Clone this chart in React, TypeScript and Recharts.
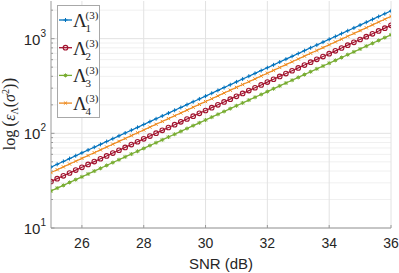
import React from 'react';
import { LineChart, Line, XAxis, YAxis, CartesianGrid, Legend } from 'recharts';

const snr = [25, 25.2, 25.4, 25.6, 25.8, 26, 26.2, 26.4, 26.6, 26.8, 27, 27.2, 27.4, 27.6, 27.8, 28, 28.2, 28.4, 28.6, 28.8, 29, 29.2, 29.4, 29.6, 29.8, 30, 30.2, 30.4, 30.6, 30.8, 31, 31.2, 31.4, 31.6, 31.8, 32, 32.2, 32.4, 32.6, 32.8, 33, 33.2, 33.4, 33.6, 33.8, 34, 34.2, 34.4, 34.6, 34.8, 35, 35.2, 35.4, 35.6, 35.8, 36];

const lambda1 = [44, 47.1, 50.5, 54.1, 58.0, 62.2, 66.6, 71.4, 76.5, 81.9, 87.8, 94.1, 100.8, 108.0, 115.7, 124.0, 132.9, 142.4, 152.6, 163.5, 175.2, 187.7, 201.1, 215.5, 230.9, 247.4, 265.1, 284.1, 304.4, 326.2, 349.5, 374.5, 401.3, 430.0, 460.7, 493.7, 529.0, 566.8, 607.4, 650.8, 697.4, 747.2, 800.7, 857.9, 919.3, 985.0, 1055.5, 1131.0, 1211.9, 1298.5, 1391.4, 1490.9, 1597.5, 1711.8, 1834.2, 1965.4];

const lambda2 = [31, 33.2, 35.6, 38.1, 40.9, 43.8, 46.9, 50.3, 53.9, 57.7, 61.9, 66.3, 71.0, 76.1, 81.5, 87.4, 93.6, 100.3, 107.5, 115.2, 123.4, 132.2, 141.7, 151.8, 162.7, 174.3, 186.8, 200.2, 214.5, 229.8, 246.2, 263.9, 282.7, 302.9, 324.6, 347.8, 372.7, 399.4, 427.9, 458.5, 491.3, 526.5, 564.1, 604.4, 647.7, 694.0, 743.6, 796.8, 853.8, 914.9, 980.3, 1050.4, 1125.5, 1206.0, 1292.3, 1384.7];

const lambda3 = [24.6, 26.4, 28.2, 30.3, 32.4, 34.7, 37.2, 39.9, 42.7, 45.8, 49.1, 52.6, 56.4, 60.4, 64.7, 69.3, 74.3, 79.6, 85.3, 91.4, 97.9, 104.9, 112.4, 120.5, 129.1, 138.3, 148.2, 158.8, 170.2, 182.4, 195.4, 209.4, 224.4, 240.4, 257.6, 276.0, 295.8, 316.9, 339.6, 363.9, 389.9, 417.8, 447.6, 479.7, 514.0, 550.7, 590.1, 632.3, 677.5, 726.0, 777.9, 833.6, 893.2, 957.0, 1025.5, 1098.8];

const lambda4 = [38.5, 41.3, 44.2, 47.4, 50.8, 54.4, 58.3, 62.4, 66.9, 71.7, 76.8, 82.3, 88.2, 94.5, 101.3, 108.5, 116.3, 124.6, 133.5, 143.0, 153.3, 164.2, 176.0, 188.6, 202.1, 216.5, 232.0, 248.6, 266.4, 285.4, 305.8, 327.7, 351.1, 376.2, 403.1, 432.0, 462.9, 496.0, 531.5, 569.5, 610.2, 653.8, 700.6, 750.7, 804.4, 861.9, 923.6, 989.6, 1060.4, 1136.2, 1217.5, 1304.5, 1397.8, 1497.8, 1604.9, 1719.7];

const xTicks = [26, 28, 30, 32, 34, 36];
const yTicks = [10, 20, 30, 40, 50, 60, 70, 80, 90, 100, 200, 300, 400, 500, 600, 700, 800, 900, 1000, 2000];
const yDecades = [10, 100, 1000];
const yMinors = [20, 30, 40, 50, 60, 70, 80, 90, 200, 300, 400, 500, 600, 700, 800, 900, 2000];
const legendSubs = ['1', '2', '3', '4'];

const data = snr.map((s, i) => ({ snr: s, l1: lambda1[i], l2: lambda2[i], l3: lambda3[i], l4: lambda4[i] }));

const C1 = '#0072BD';
const C2 = '#A2142F';
const C3 = '#77AC30';
const C4 = '#EE8A1E';
const TXT = '#262626';
const AX = '#9a9a9a';
const SANS = '"Liberation Sans", Arial, Helvetica, sans-serif';
const SERIF = '"Liberation Serif", "Times New Roman", serif';

type MP = { cx: number; cy: number; color: string };

const PlusM = ({ cx, cy, color }: MP) => (
  <g stroke={color} strokeWidth={1}>
    <line x1={cx - 2} y1={cy} x2={cx + 2} y2={cy} />
    <line x1={cx} y1={cy - 2} x2={cx} y2={cy + 2} />
  </g>
);
const CircleM = ({ cx, cy, color }: MP) => (
  <circle cx={cx} cy={cy} r={2.3} stroke={color} strokeWidth={1.1} fill="none" />
);
const StarM = ({ cx, cy, color }: MP) => (
  <g stroke={color} strokeWidth={1}>
    <line x1={cx - 2} y1={cy} x2={cx + 2} y2={cy} />
    <line x1={cx} y1={cy - 2} x2={cx} y2={cy + 2} />
    <line x1={cx - 1.5} y1={cy - 1.5} x2={cx + 1.5} y2={cy + 1.5} />
    <line x1={cx - 1.5} y1={cy + 1.5} x2={cx + 1.5} y2={cy - 1.5} />
  </g>
);
const DotM = ({ cx, cy, color }: MP) => (
  <g stroke={color} strokeWidth={1}>
    <line x1={cx - 1.6} y1={cy - 1.6} x2={cx + 1.6} y2={cy + 1.6} />
    <line x1={cx - 1.6} y1={cy + 1.6} x2={cx + 1.6} y2={cy - 1.6} />
  </g>
);

const markers = [PlusM, CircleM, StarM, DotM];
const colors = [C1, C2, C3, C4];

const mkDot = (M: any, color: string) => (p: any) => {
  if (p.cx == null || p.cy == null) return <g key={p.index} />;
  return <M key={p.index} cx={p.cx} cy={p.cy} color={color} />;
};

const XTick = (props: any) => {
  const { x, y, payload } = props;
  return (
    <g>
      <line x1={x} y1={y} x2={x} y2={y - 3} stroke={AX} strokeWidth={1} />
      <text x={x} y={y + 20} textAnchor="middle" fontFamily={SANS} fontSize={14} fill={TXT}>
        {payload.value}
      </text>
    </g>
  );
};

const YTick = (props: any) => {
  const { x, y, payload } = props;
  const v = payload.value;
  const isDec = yDecades.includes(v);
  const exp = Math.round(Math.log10(v));
  return (
    <g>
      <line x1={x} y1={y} x2={x + (isDec ? 3.5 : 2)} y2={y} stroke={AX} strokeWidth={1} />
      {isDec && (
        <text x={x - 5} y={y + 6} textAnchor="end" fontFamily={SANS} fontSize={15} fill={TXT}>
          <tspan>10</tspan>
          <tspan fontSize={10} dy={-8}>{exp}</tspan>
        </text>
      )}
    </g>
  );
};

const YLabel = () => (
  <text
    x={15}
    y={114}
    transform="rotate(-90, 15, 114)"
    textAnchor="middle"
    fontFamily={SERIF}
    fontSize={16}
    fill={TXT}
  >
    <tspan>log</tspan>
    <tspan dx={3} fontSize={18}>(</tspan>
    <tspan fontStyle="italic">ε</tspan>
    <tspan fontSize={10} dy={3}>Λ</tspan>
    <tspan dy={-3}>(</tspan>
    <tspan fontStyle="italic">σ</tspan>
    <tspan fontSize={10} dy={-6}>2</tspan>
    <tspan dy={6}>)</tspan>
    <tspan fontSize={18}>)</tspan>
  </text>
);

const XLabel = () => (
  <text x={221} y={269} textAnchor="middle" fontFamily={SANS} fontSize={15} fill={TXT}>
    SNR (dB)
  </text>
);

const LegendBox = () => (
  <svg width={43} height={113} style={{ display: 'block' }}>
    <rect x={0.5} y={0.5} width={42} height={112} fill="#fff" stroke="#a8a8a8" strokeWidth={1} />
    {legendSubs.map((s, i) => {
      const cy = 15 + i * 27.7;
      const M = markers[i];
      return (
        <g key={s}>
          <line x1={2} y1={cy} x2={15} y2={cy} stroke={colors[i]} strokeWidth={1.3} />
          <M cx={8.5} cy={cy} color={colors[i]} />
          <text x={16} y={cy + 7} fontFamily={SERIF} fontSize={19} fill={TXT}>Λ</text>
          <text x={28.5} y={cy - 1} fontFamily={SERIF} fontSize={11} fill={TXT}>(3)</text>
          <text x={28.5} y={cy + 12} fontFamily={SERIF} fontSize={11} fill={TXT}>{s}</text>
        </g>
      );
    })}
  </svg>
);

export default function App() {
  return (
    <div style={{ position: 'absolute', left: 0, top: 0 }}>
      <LineChart width={399} height={273} data={data} margin={{ top: 1, right: 8, left: 0, bottom: 0 }}>
        <CartesianGrid stroke="#f0f0f0" strokeWidth={1} vertical={false} horizontalValues={yMinors} />
        <CartesianGrid stroke="#e2e2e2" strokeWidth={1} horizontalValues={yDecades} verticalValues={xTicks} />
        <XAxis
          dataKey="snr"
          type="number"
          domain={[25, 36]}
          ticks={xTicks}
          height={45}
          stroke={AX}
          tickLine={false}
          tickSize={0}
          tickMargin={0}
          tick={<XTick />}
          allowDataOverflow
          label={<XLabel />}
        />
        <YAxis
          scale="log"
          domain={[10, 2500]}
          ticks={yTicks}
          width={51}
          stroke={AX}
          tickLine={false}
          tickSize={0}
          tickMargin={0}
          tick={<YTick />}
          interval={0}
          allowDataOverflow
          label={<YLabel />}
        />
        <Line dataKey="l3" stroke={C3} strokeWidth={1.2} dot={mkDot(StarM, C3)} isAnimationActive={false} />
        <Line dataKey="l2" stroke={C2} strokeWidth={1.2} dot={mkDot(CircleM, C2)} isAnimationActive={false} />
        <Line dataKey="l4" stroke={C4} strokeWidth={1.2} dot={mkDot(DotM, C4)} isAnimationActive={false} />
        <Line dataKey="l1" stroke={C1} strokeWidth={1.2} dot={mkDot(PlusM, C1)} isAnimationActive={false} />
        <Legend
          layout="horizontal"
          verticalAlign="middle"
          align="center"
          content={() => <LegendBox />}
          wrapperStyle={{ left: 57, top: 5, width: 43, height: 113 }}
        />
      </LineChart>
    </div>
  );
}
